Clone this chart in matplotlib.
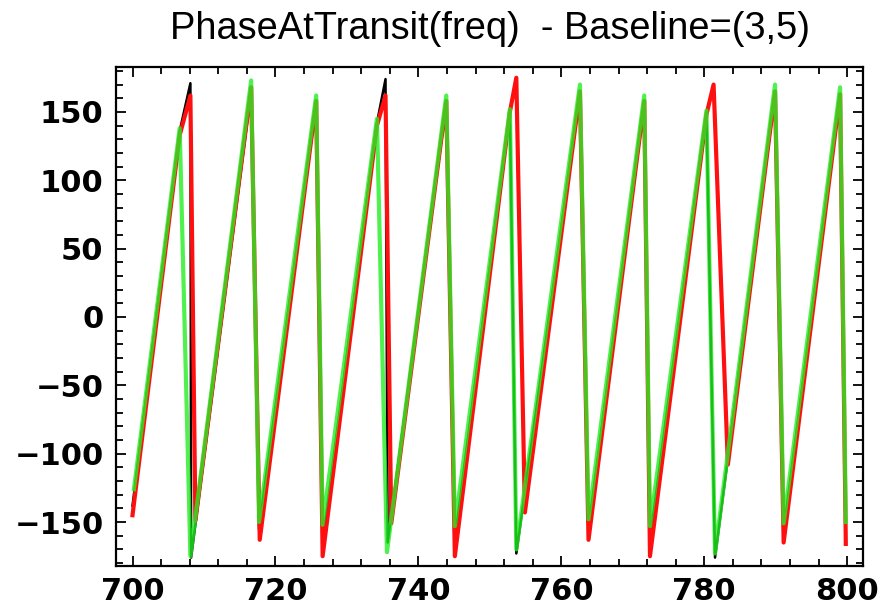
import matplotlib
matplotlib.use("Agg")
from matplotlib import pyplot as plt
from matplotlib.ticker import MultipleLocator

# vertices (freq, phase in degrees)
red_freq = [700.0, 706.6, 708.1, 708.8, 716.6, 717.8, 725.7, 726.6, 734.2, 735.4, 736.2,
            743.9, 745.1, 752.8, 753.7, 754.9, 762.6, 763.8, 771.6, 772.4, 780.3, 781.3,
            783.3, 789.9, 791.1, 799.0, 799.8]
red_phase = [-145, 133, 162, -149, 168, -163, 158, -175, 140, 162, -151,
             158, -175, 150, 175, -143, 165, -163, 158, -175, 148, 170,
             -108, 165, -165, 163, -166]

green_freq = [700.2, 706.6, 708.1, 716.6, 717.7, 725.7, 726.6, 734.2, 735.6, 743.9, 745.1,
              752.8, 753.7, 762.6, 763.8, 771.6, 772.4, 780.3, 781.5, 789.9, 791.1,
              799.0, 799.8]
green_phase = [-126, 138, -175, 173, -150, 162, -152, 145, -172, 162, -153,
               152, -170, 170, -148, 162, -153, 151, -173, 170, -151,
               168, -150]

black_freq = [700.0, 706.6, 708.1, 708.2, 716.6, 717.7, 725.7, 726.6, 734.2, 735.4, 735.7,
              743.9, 745.1, 752.8, 753.7, 762.6, 763.8, 771.6, 772.4, 780.3, 781.5,
              789.9, 791.1, 799.0, 799.8]
black_phase = [-138, 136, 171, -176, 165, -155, 156, -165, 142, 174, -165,
               156, -163, 150, -173, 163, -155, 156, -163, 149, -176,
               163, -157, 162, -157]

title = "PhaseAtTransit(freq)  - Baseline=(3,5)"

fig = plt.figure(figsize=(8.86, 6.11), dpi=100)
ax = fig.add_axes([0.131, 0.074, 0.843, 0.816])

ax.plot(black_freq, black_phase, color="black", linewidth=1.8, zorder=2)
ax.plot(red_freq, red_phase, color="#ff1010", linewidth=3.0, zorder=3)
ax.plot(green_freq, green_phase, color="#22ee22", linewidth=3.0, alpha=0.8, zorder=4)

ax.set_xlim(697.7, 802.2)
ax.set_ylim(-182, 182.7)

ax.xaxis.set_major_locator(MultipleLocator(20))
ax.xaxis.set_minor_locator(MultipleLocator(4))
ax.yaxis.set_major_locator(MultipleLocator(50))
ax.yaxis.set_minor_locator(MultipleLocator(10))

ax.tick_params(which="both", direction="in", top=True, right=True, width=1.3, color="black")
ax.tick_params(which="major", length=7)
ax.tick_params(which="minor", length=5)
ax.tick_params(axis="y", pad=9)
ax.tick_params(axis="x", pad=8)
for lab in ax.get_xticklabels() + ax.get_yticklabels():
    lab.set_fontsize(22)
    lab.set_fontweight("bold")
    lab.set_family("DejaVu Sans")

for s in ax.spines.values():
    s.set_linewidth(1.6)

ax.set_title(title, fontsize=27.4, family="Liberation Sans", pad=20)

fig.savefig("out.png", dpi=100)
